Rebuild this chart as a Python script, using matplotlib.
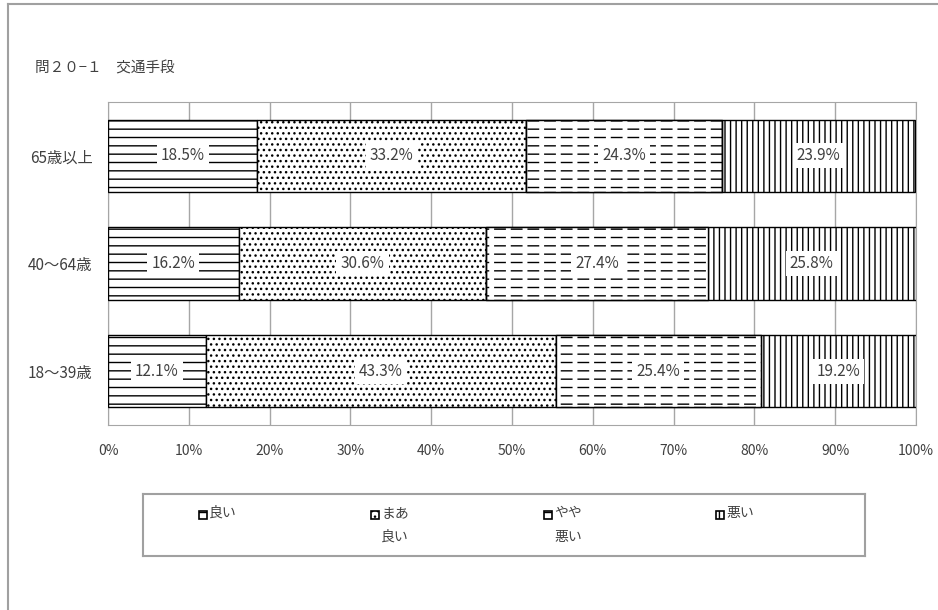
import matplotlib
matplotlib.use('Agg')
import matplotlib.pyplot as plt
from matplotlib.patches import Rectangle
from matplotlib.lines import Line2D
import numpy as np

plt.rcParams['font.family'] = ['Noto Sans CJK JP', 'DejaVu Sans']
plt.rcParams['hatch.linewidth'] = 1.0

# data
title = '問２０−１　交通手段'
groups = ['18～39歳', '40～64歳', '65歳以上']
answers = ['良い', 'まあ\n良い', 'やや\n悪い', '悪い']
good = [12.1, 16.2, 18.5]
fair_good = [43.3, 30.6, 33.2]
fair_bad = [25.4, 27.4, 24.3]
bad = [19.2, 25.8, 23.9]
xticks = [0, 10, 20, 30, 40, 50, 60, 70, 80, 90, 100]

series = [good, fair_good, fair_bad, bad]
hatches = ['--', '...', '--', '|||']
txt_col = '#404040'
grid_col = '#a6a6a6'


def cut_dashes(patch):
    # white vertical hatch on top of horizontal lines -> dashed look
    patch.set_facecolor('none')
    patch.set_edgecolor('white')
    patch.set_linewidth(0)
    if hasattr(patch, 'set_hatch_linewidth'):
        patch.set_hatch_linewidth(3.5)


fig = plt.figure(figsize=(9.38, 6.10), dpi=100)

# outer frame (only top and left visible)
fig.add_artist(Line2D([8 / 938, 8 / 938], [0, 1 - 4 / 610], color='#a0a0a0', lw=1.5))
fig.add_artist(Line2D([8 / 938, 1], [1 - 4 / 610, 1 - 4 / 610], color='#a0a0a0', lw=1.5))

fig.text(35 / 938, 1 - 68 / 610, title, fontsize=10.5, color=txt_col, va='center')

ax = fig.add_axes([108 / 938, 1 - 425 / 610, 808 / 938, 323 / 610])
y = np.arange(len(groups))
left = np.zeros(len(groups))
for i, (vals, h) in enumerate(zip(series, hatches)):
    vals = np.array(vals)
    ax.barh(y, vals, left=left, height=0.67, color='white',
            edgecolor='black', hatch=h, linewidth=1.0, zorder=3)
    if i == 2:
        over = ax.barh(y, vals, left=left, height=0.67, hatch='|', zorder=3.5)
        for p in over:
            cut_dashes(p)
        ax.barh(y, vals, left=left, height=0.67, color='none',
                edgecolor='black', linewidth=1.0, zorder=3.6)
    for yi, l, v in zip(y, left, vals):
        ax.text(l + v / 2, yi, f'{v:.1f}%', ha='center', va='center',
                fontsize=11, color=txt_col, zorder=5,
                bbox=dict(facecolor='white', edgecolor='none', pad=3))
    left = left + vals

ax.set_xlim(0, 100)
ax.set_ylim(-0.5, 2.5)
ax.set_xticks(xticks)
ax.set_xticklabels([f'{t}%' for t in xticks], fontsize=10, color=txt_col)
ax.set_yticks(y)
ax.set_yticklabels(groups, fontsize=11, color=txt_col)
ax.tick_params(axis='x', length=0, pad=14)
ax.tick_params(axis='y', length=0, pad=11)
ax.xaxis.grid(True, color=grid_col, lw=1.0, zorder=0)
for s in ax.spines.values():
    s.set_color(grid_col)

# legend box
lax = fig.add_axes([143 / 938, 1 - 556 / 610, 722 / 938, 62 / 610])
lax.set_xlim(143, 865)
lax.set_ylim(556, 494)
lax.set_xticks([])
lax.set_yticks([])
for s in lax.spines.values():
    s.set_color('#a0a0a0')
    s.set_linewidth(1.5)
lx = [199, 371, 544, 716]
for x0, lab, h in zip(lx, answers, hatches):
    lax.add_patch(Rectangle((x0, 511), 8, 8, facecolor='white',
                            edgecolor='black', hatch=h, lw=1.2))
    lax.text(x0 + 10, 506, lab, fontsize=10, color=txt_col,
             va='top', ha='left', linespacing=1.9)

fig.savefig('out.png', dpi=100)
